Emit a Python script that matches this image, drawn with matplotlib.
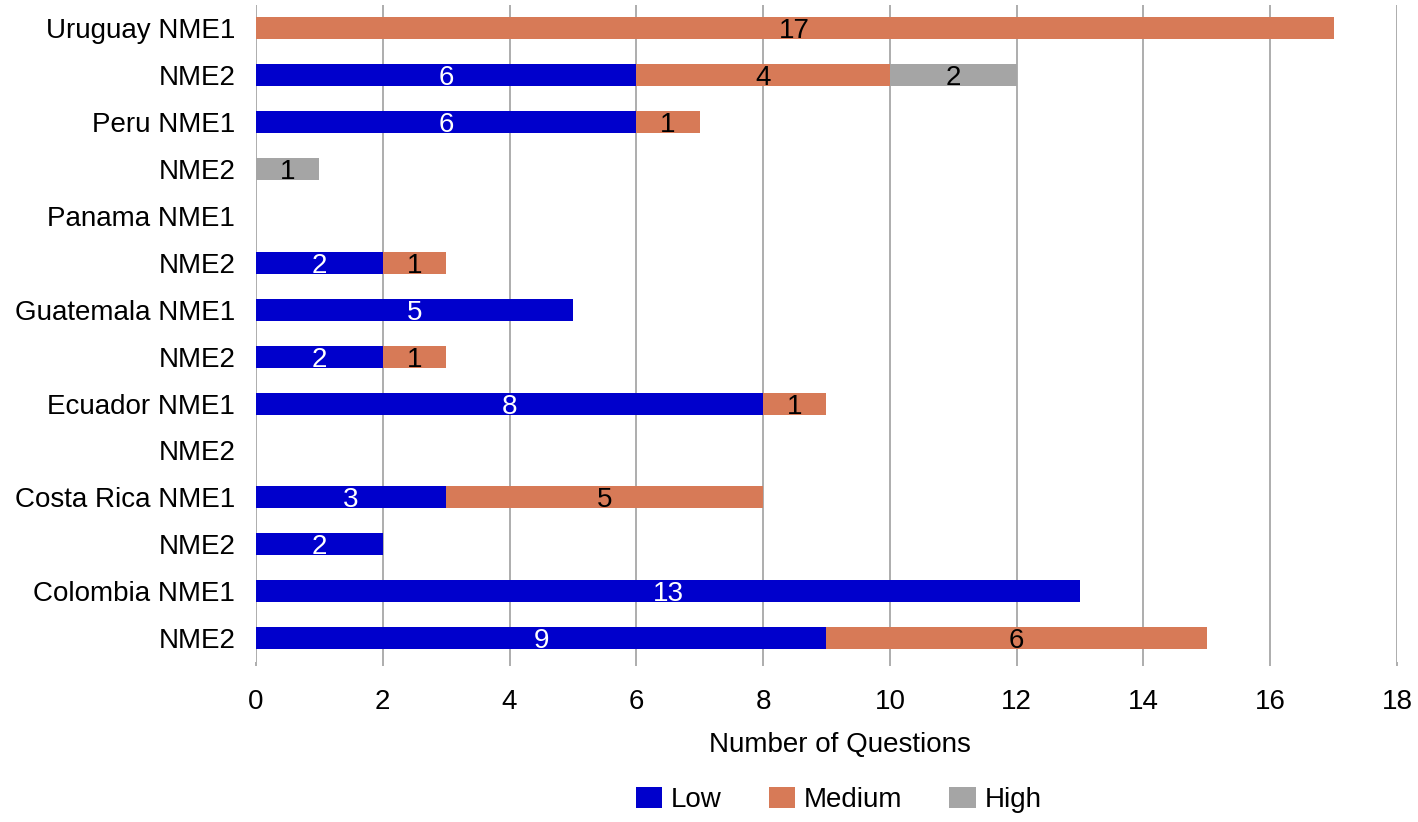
import matplotlib
matplotlib.use("Agg")
import matplotlib.pyplot as plt
from matplotlib.patches import Patch
from matplotlib.transforms import offset_copy
import numpy as np

plt.rcParams['font.family'] = ['Liberation Sans', 'DejaVu Sans']

categories = ["Uruguay NME1", "NME2", "Peru NME1", "NME2", "Panama NME1", "NME2",
              "Guatemala NME1", "NME2", "Ecuador NME1", "NME2", "Costa Rica NME1",
              "NME2", "Colombia NME1", "NME2"]
low = [0, 6, 6, 0, 0, 2, 5, 2, 8, 0, 3, 2, 13, 9]
medium = [17, 4, 1, 0, 0, 1, 0, 1, 1, 0, 5, 0, 0, 6]
high = [0, 2, 0, 1, 0, 0, 0, 0, 0, 0, 0, 0, 0, 0]
series_names = ["Low", "Medium", "High"]
colors = ["#0000CC", "#D77A57", "#A5A5A5"]
label_colors = ["white", "black", "black"]
xticks = [0, 2, 4, 6, 8, 10, 12, 14, 16, 18]

W, H = 1418, 822
fig = plt.figure(figsize=(W / 100, H / 100), dpi=100)
ax = fig.add_axes([256 / W, 1 - 661.5 / H, (1397 - 256) / W, (661.5 - 5) / H])

y = np.arange(len(categories))
left = np.zeros(len(categories))
fs = 20
tr = offset_copy(ax.transData, fig=fig, x=0, y=-10, units='dots')
for vals, name, c, lc in zip([low, medium, high], series_names, colors, label_colors):
    vals = np.array(vals, dtype=float)
    ax.barh(y, vals, left=left, height=0.47, color=c, zorder=3)
    for yi, (l, v) in enumerate(zip(left, vals)):
        if v > 0:
            ax.text(l + v / 2, yi, f"{int(v)}", ha="center", va="baseline",
                    color=lc, fontsize=fs, zorder=4, transform=tr)
    left += vals

ax.set_ylim(len(categories) - 0.5, -0.5)
ax.set_xlim(0, 18)
ax.set_xticks(xticks)
ax.set_yticks(y)
ax.set_yticklabels(categories)
for s in ax.spines.values():
    s.set_visible(False)
ax.grid(axis="x", color="#A0A0A0", linewidth=1.2, zorder=0)
ax.tick_params(axis="x", length=3, width=1.2, color="#A0A0A0", pad=17, labelsize=fs)
ax.tick_params(axis="y", length=0, pad=15, labelsize=fs)

fig.text(840 / W, 1 - 745 / H, "Number of Questions", ha="center", va="center", fontsize=fs)

handles = [Patch(facecolor=c, edgecolor="none") for c in colors]
fig.legend(handles, series_names, loc="center", bbox_to_anchor=(838.5 / W, 1 - 800 / H),
           ncol=3, frameon=False, fontsize=fs, handlelength=0.96, handleheight=0.82,
           handletextpad=0.3, columnspacing=1.7)

fig.savefig("out.png", dpi=100)
